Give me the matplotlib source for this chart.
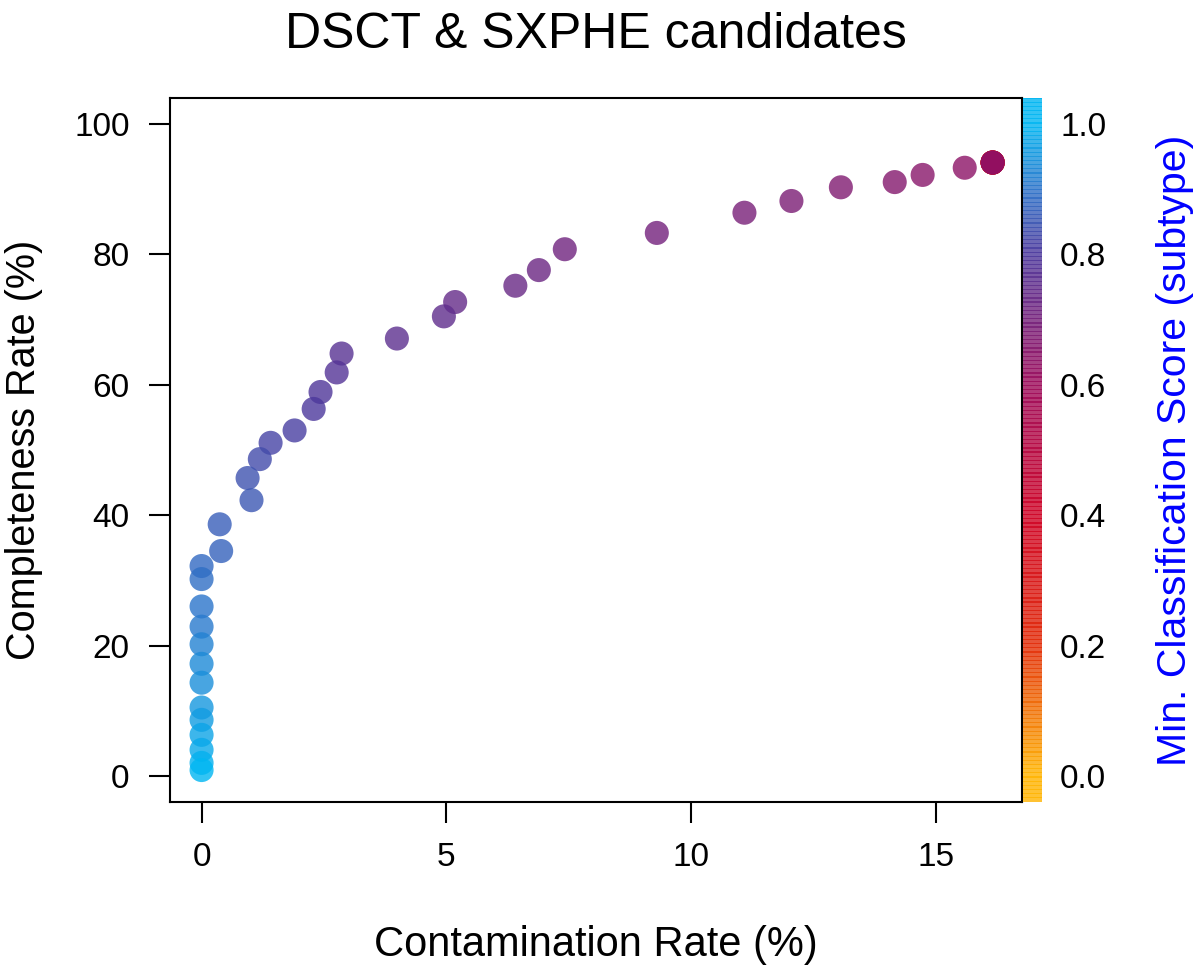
import numpy as np
import matplotlib
matplotlib.use("Agg")
import matplotlib.pyplot as plt
from matplotlib.colors import LinearSegmentedColormap, Normalize

plt.rcParams['font.family'] = ['Liberation Sans', 'DejaVu Sans']

# contamination (%), completeness (%), min. classification score
contamination = [0.0, 0.0, 0.0, 0.0, 0.0, 0.0, 0.0, 0.0, 0.0, 0.0, 0.0, 0.0, 0.0,
                 0.40, 0.37, 1.02, 0.94, 1.19, 1.41, 1.90, 2.29, 2.43, 2.76, 2.86,
                 3.99, 4.95, 5.18, 6.41, 6.89, 7.42, 9.30, 11.09, 12.05, 13.06,
                 14.16, 14.73, 15.59, 16.16,
                 16.16, 16.16, 16.16, 16.16, 16.16, 16.16, 16.16]
completeness = [0.9, 2.0, 4.0, 6.3, 8.6, 10.5, 14.3, 17.2, 20.2, 22.9, 26.0, 30.2, 32.2,
                34.5, 38.6, 42.3, 45.7, 48.6, 51.1, 53.0, 56.3, 58.9, 61.9, 64.8,
                67.1, 70.5, 72.7, 75.2, 77.6, 80.8, 83.3, 86.4, 88.2, 90.3,
                91.1, 92.2, 93.3, 94.1,
                94.1, 94.1, 94.1, 94.1, 94.1, 94.1, 94.1]
min_score = [1.00, 0.99, 0.98, 0.97, 0.96, 0.95, 0.94, 0.93, 0.92, 0.91, 0.90, 0.89, 0.88,
             0.87, 0.86, 0.85, 0.84, 0.83, 0.82, 0.81, 0.80, 0.79, 0.78, 0.77,
             0.76, 0.75, 0.74, 0.73, 0.72, 0.71, 0.70, 0.69, 0.68, 0.67,
             0.66, 0.65, 0.64, 0.63,
             0.60, 0.50, 0.40, 0.30, 0.20, 0.10, 0.00]

x_ticks = [0, 5, 10, 15]
y_ticks = [0, 20, 40, 60, 80, 100]
cb_ticks = [0.0, 0.2, 0.4, 0.6, 0.8, 1.0]

cmap = LinearSegmentedColormap.from_list("score", [
    (0.0, "#FFB300"), (0.2, "#E22906"), (0.4, "#CE0024"),
    (0.6, "#9C0A5A"), (0.8, "#4C389C"), (0.9, "#2C74CA"), (1.0, "#00B6F2")])
norm = Normalize(0, 1)

W, H = 1200, 977
fig = plt.figure(figsize=(W / 100, H / 100), dpi=100)
L, R, T, B = 170, 1022, 98, 802
ax = fig.add_axes([L / W, 1 - B / H, (R - L) / W, (B - T) / H])
cax = fig.add_axes([1023 / W, 1 - B / H, 19 / W, (B - T) / H])

# lowest score drawn first, so the top of the stack is the highest score
xs = np.array(contamination)[::-1]
ys = np.array(completeness)[::-1]
cs = np.array(min_score)[::-1]
ax.scatter(xs, ys, c=cs, cmap=cmap, norm=norm, s=300, alpha=0.8, linewidths=0)

ax.set_xlim(-0.645, 16.76)
ax.set_ylim(-4, 104)
ax.set_xticks(x_ticks)
ax.set_yticks(y_ticks)
for s in ax.spines.values():
    s.set_linewidth(1.5)
ax.tick_params(length=15, width=1.5, pad=14, labelsize=24)
ax.set_xlabel("Contamination Rate (%)", fontsize=30)
ax.xaxis.set_label_coords(0.5, -(945 - B) / (B - T))
ax.xaxis.label.set_va("center")
ax.set_ylabel("Completeness Rate (%)", fontsize=28.5)
ax.yaxis.set_label_coords((24 - L) / (R - L), 0.5)
ax.yaxis.label.set_va("center")
ax.set_title("DSCT & SXPHE candidates", fontsize=36, pad=36)

# colour bar built from stacked translucent stripes
lev = np.linspace(-0.04, 1.04, 170)
step = lev[1] - lev[0]
cax.bar(0, step * 1.3, bottom=lev - step * 0.15, width=1, align='edge',
        color=cmap(norm(np.clip(lev, 0, 1))), alpha=0.8, linewidth=0)
cax.set_xlim(0, 1)
cax.set_ylim(-0.04, 1.04)
cax.set_xticks([])
cax.set_yticks(cb_ticks)
cax.set_yticklabels([f"{v:.1f}" for v in cb_ticks])
cax.yaxis.tick_right()
cax.tick_params(axis='y', length=0, pad=13, labelsize=24)
for s in cax.spines.values():
    s.set_visible(False)

fig.text(1175 / W, 1 - (T + B) / 2 / H, "Min. Classification Score (subtype)",
         rotation=90, ha='center', va='center', fontsize=29.5, color='#0000FF')

fig.savefig("out.png", dpi=100)
